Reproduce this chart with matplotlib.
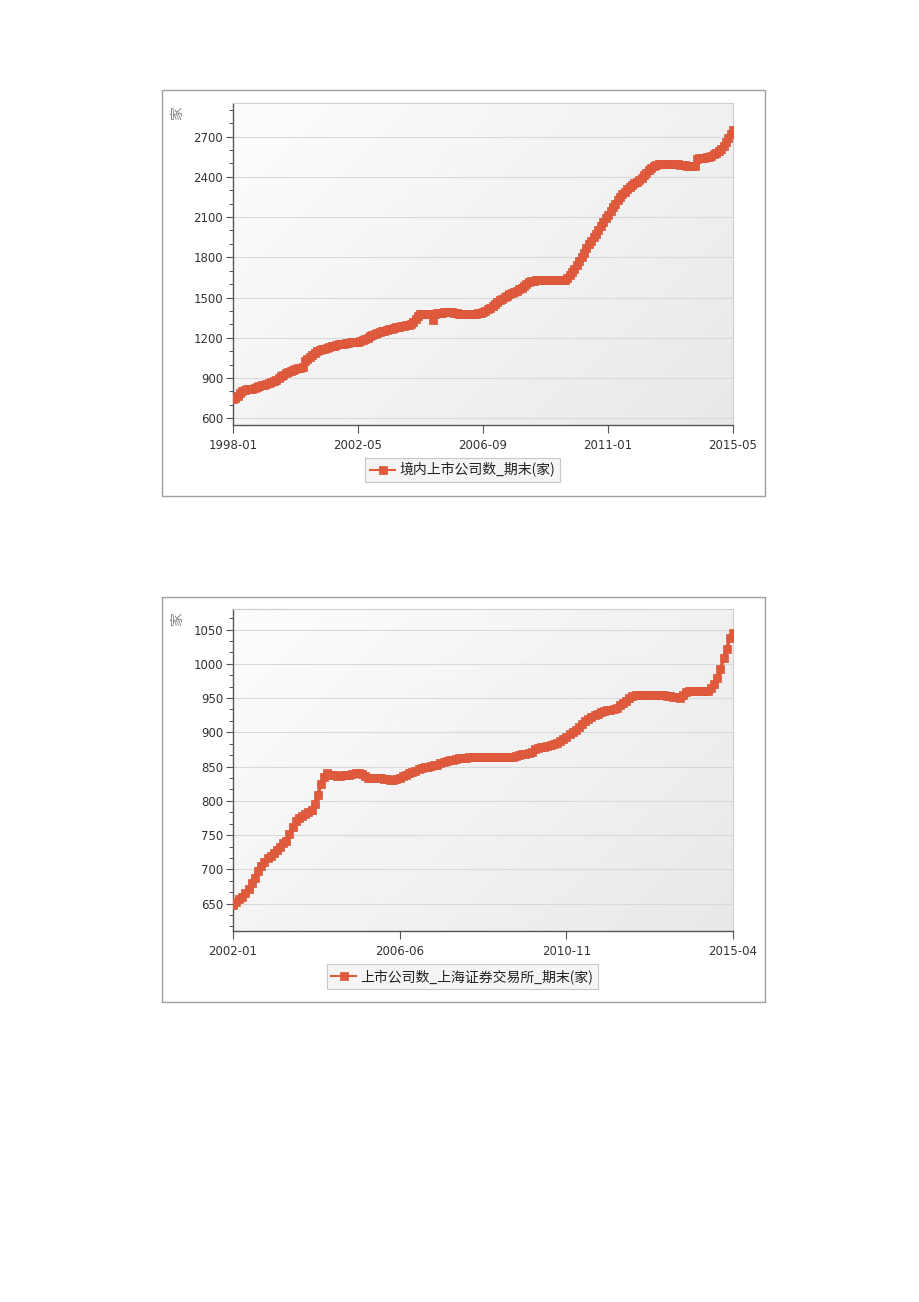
import numpy as np
import pandas as pd
import matplotlib
matplotlib.use('Agg')
import matplotlib.pyplot as plt
from matplotlib.patches import Rectangle
from matplotlib.ticker import MultipleLocator

plt.rcParams['font.family'] = ['DejaVu Sans', 'Noto Sans CJK SC']

# chart 1: domestic listed companies, monthly 1998-01 .. 2015-05
start1 = '1998-01'
vals1 = [
    745, 752, 765, 790, 805, 810, 815, 818, 822, 828, 835, 840,
    846, 850, 855, 862, 870, 878, 888, 900, 912, 925, 940, 948,
    955, 960, 966, 972, 978, 984, 1030, 1045, 1060, 1075, 1090, 1100,
    1108, 1115, 1120, 1126, 1132, 1136, 1140, 1145, 1150, 1153, 1156, 1160,
    1163, 1166, 1168, 1170, 1172, 1176, 1182, 1192, 1202, 1212, 1222, 1230,
    1236, 1242, 1248, 1253, 1258, 1263, 1268, 1272, 1277, 1281, 1285, 1288,
    1292, 1298, 1305, 1318, 1340, 1362, 1375, 1378, 1378, 1380, 1380, 1335,
    1380, 1382, 1385, 1388, 1390, 1393, 1392, 1390, 1386, 1382, 1380, 1378,
    1377, 1377, 1378, 1378, 1378, 1380, 1382, 1384, 1390, 1400, 1415, 1425,
    1440, 1455, 1468, 1480, 1492, 1505, 1515, 1525, 1535, 1545, 1550, 1560,
    1570, 1585, 1600, 1615, 1620, 1625, 1628, 1630, 1630, 1630, 1630, 1630,
    1630, 1630, 1630, 1630, 1630, 1630, 1632, 1645, 1665, 1690, 1715, 1745,
    1775, 1805, 1835, 1870, 1900, 1925, 1950, 1975, 2000, 2030, 2060, 2090,
    2115, 2145, 2175, 2200, 2228, 2250, 2270, 2290, 2310, 2325, 2338, 2350,
    2362, 2375, 2390, 2410, 2430, 2450, 2468, 2480, 2490, 2492, 2493, 2494,
    2494, 2494, 2494, 2493, 2493, 2492, 2490, 2488, 2485, 2483, 2481, 2480,
    2480, 2535, 2538, 2540, 2542, 2545, 2550, 2558, 2568, 2580, 2592, 2605,
    2630, 2660, 2690, 2720, 2750,
]
xticks1 = ['1998-01', '2002-05', '2006-09', '2011-01', '2015-05']
label1 = '境内上市公司数_期末(家)'

# chart 2: Shanghai exchange listed companies, monthly 2002-01 .. 2015-04
start2 = '2002-01'
vals2 = [
    648, 652, 656, 660, 665, 672, 680, 688, 697, 705, 711, 716,
    720, 724, 728, 733, 738, 742, 752, 762, 770, 775, 778, 781,
    783, 786, 795, 808, 825, 835, 840, 838, 837, 836, 836, 837,
    837, 838, 839, 840, 840, 839, 836, 834, 834, 833, 833, 833,
    832, 832, 831, 831, 832, 834, 836, 838, 840, 842, 844, 846,
    848, 849, 850, 851, 852, 853, 855, 856, 858, 859, 860, 861,
    862, 863, 863, 864, 864, 864, 864, 864, 864, 864, 864, 864,
    864, 864, 864, 864, 864, 864, 865, 867, 868, 869, 870, 872,
    875, 877, 878, 879, 880, 881, 883, 885, 887, 890, 893, 897,
    900, 904, 908, 912, 916, 919, 922, 925, 927, 929, 931, 932,
    933, 934, 936, 940, 943, 946, 950, 953, 954, 955, 955, 955,
    955, 955, 955, 955, 955, 954, 953, 953, 952, 951, 950, 955,
    959, 960, 960, 960, 960, 960, 960, 960, 965, 970, 980, 992,
    1008, 1022, 1038, 1045,
]
xticks2 = ['2002-01', '2006-06', '2010-11', '2015-04']
label2 = '上市公司数_上海证券交易所_期末(家)'

W, H = 920, 1302
color = '#E05A3C'

fig = plt.figure(figsize=(W / 100, H / 100), dpi=100)


def fx(px):
    return px / W


def fy(py):
    return 1 - py / H


def panel(top, bottom):
    fig.patches.append(Rectangle((fx(162), fy(bottom)), fx(765) - fx(162), fy(top) - fy(bottom),
                                 transform=fig.transFigure, fill=False, edgecolor='#A0A0A0', lw=1))


def chart(top_px, vals, start, xticks, ylim, major, minor, label, legend_y):
    ax = fig.add_axes([fx(233), fy(top_px + 322), 500 / W, 322 / H])
    dates = pd.date_range(start, periods=len(vals), freq='MS')
    # background gradient
    g = np.linspace(0, 1, 200)
    gx, gy = np.meshgrid(g, g)
    grad = 0.99 - 0.08 * (0.6 * gx + 0.4 * gy)
    ax.imshow(grad, extent=[0, 1, 0, 1], transform=ax.transAxes, aspect='auto',
              cmap='gray', vmin=0, vmax=1, zorder=0, origin='upper')
    ax.plot(dates, vals, color=color, lw=2.5, marker='s', markersize=6,
            markeredgecolor='#D9553A', markeredgewidth=0.5, zorder=3, label=label)
    ax.set_xlim(dates[0], dates[-1])
    ax.set_ylim(*ylim)
    ax.yaxis.set_major_locator(MultipleLocator(major))
    ax.yaxis.set_minor_locator(MultipleLocator(minor))
    ax.set_xticks(pd.to_datetime(xticks))
    ax.set_xticklabels(xticks)
    ax.grid(axis='y', which='major', color='#D9D9D9', lw=0.8, zorder=1)
    ax.set_axisbelow(True)
    for s in ['top', 'right']:
        ax.spines[s].set_color('#CFCFCF')
        ax.spines[s].set_linewidth(0.8)
    for s in ['left', 'bottom']:
        ax.spines[s].set_color('#555555')
        ax.spines[s].set_linewidth(1)
    ax.tick_params(axis='y', which='major', length=5, width=0.8, color='#555555', pad=2,
                   labelsize=8.5, labelcolor='#333333')
    ax.tick_params(axis='y', which='minor', length=3, width=0.7, color='#555555')
    ax.tick_params(axis='x', which='major', length=6, width=0.8, color='#555555', pad=4,
                   labelsize=8.5, labelcolor='#333333')
    fig.text(fx(177), fy(top_px + 10), '家', rotation=90, ha='center', va='center',
             fontsize=10, color='#888888', family=['Noto Sans CJK SC'])
    leg = fig.legend(handles=ax.get_lines(), loc='center', bbox_to_anchor=(fx(462.5), fy(legend_y)),
                     frameon=True, fancybox=False, framealpha=1, edgecolor='#C8C8C8',
                     facecolor='#F5F5F5', handlelength=1.8, handletextpad=0.3, borderpad=0.35,
                     prop={'family': ['Noto Sans CJK SC', 'DejaVu Sans'], 'size': 10})
    for t in leg.get_texts():
        t.set_color('#222222')
    leg.get_lines()[0].set_linewidth(1.5)
    leg.get_lines()[0].set_markersize(5.5)
    leg.get_frame().set_linewidth(0.8)
    return ax


panel(90, 496)
chart(103, vals1, start1, xticks1, (550, 2950), 300, 100, label1, 470)

panel(597, 1002)
chart(609, vals2, start2, xticks2, (610, 1080), 50, 50 / 3, label2, 976.5)

fig.savefig('out.png', dpi=100)
